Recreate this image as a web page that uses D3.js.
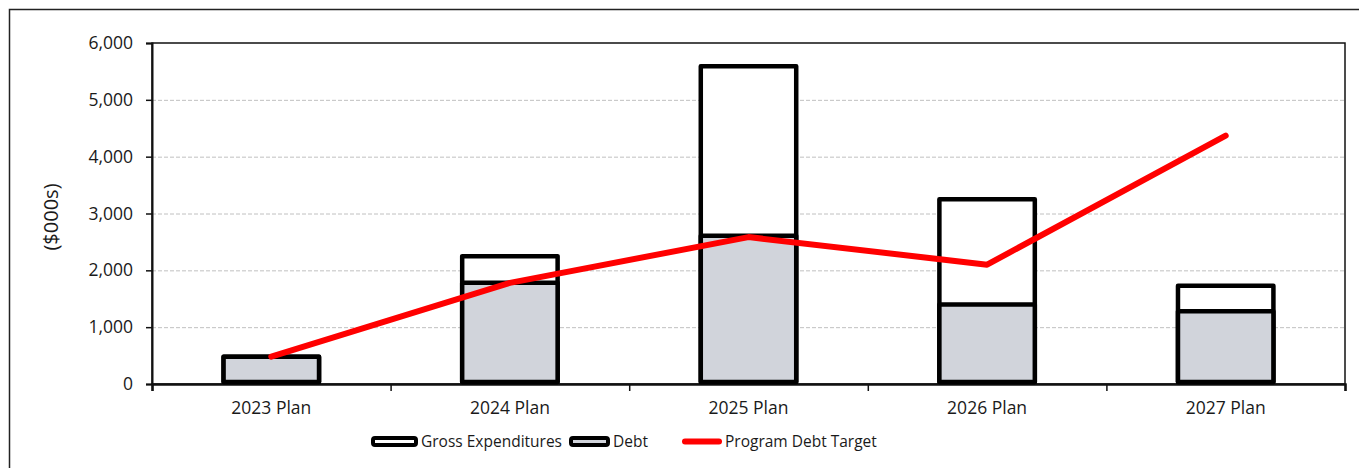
<html>
  <head>
    <script src="https://d3js.org/d3.v7.min.js"></script>
    <style>
      body {
        margin: 0;
        background: #fff;
        font-family: "Open Sans", sans-serif;
      }
      .gridlines line {
        stroke: #c0c0c0;
        stroke-dasharray: 4 2;
        /*dashed light grey like the original*/
      }
      .gridlines .domain {
        stroke: none;
      }
      .axis text {
        font-family: "Open Sans", sans-serif;
        font-size: 17.5px;
        fill: #1a1a1a;
      }
    </style>
  </head>

  <body>
    <svg id="svg1" width="1359" height="468"></svg>

    <script>
      // data
      const categories = ["2023 Plan", "2024 Plan", "2025 Plan", "2026 Plan", "2027 Plan"];
      const grossExpenditures = [480, 2250, 5590, 3250, 1730];
      const debt = [480, 1780, 2610, 1400, 1280];
      const debtTarget = [480, 1780, 2585, 2100, 4370];
      const yTicks = [0, 1000, 2000, 3000, 4000, 5000, 6000];

      const svg = d3.select("svg#svg1");
      const margin = { top: 43, right: 14, bottom: 84, left: 152 };
      const width = +svg.attr("width");
      const height = +svg.attr("height");
      const chartWidth = width - margin.left - margin.right;
      const chartHeight = height - margin.top - margin.bottom;

      // outer frame (runs off the right and bottom edges)
      svg
        .append("rect")
        .attr("x", 9.5)
        .attr("y", 9.5)
        .attr("width", width + 10)
        .attr("height", height + 10)
        .attr("fill", "none")
        .attr("stroke", "#222")
        .attr("stroke-width", 1.5);

      const data = categories.map((c, i) => ({
        cat: c,
        gross: grossExpenditures[i],
        debt: debt[i],
        target: debtTarget[i],
      }));

      const x = d3.scaleBand().domain(categories).range([0, chartWidth]).padding(0);
      const xEdges = d3.scaleLinear().domain([0, categories.length]).range([0, chartWidth]);
      const y = d3.scaleLinear().domain([0, 6000]).range([chartHeight, 0]);

      const chart = svg
        .append("g")
        .attr("transform", `translate(${margin.left},${margin.top})`);

      // horizontal gridlines
      chart
        .append("g")
        .attr("class", "y gridlines")
        .call(d3.axisLeft(y).tickValues(yTicks.slice(1, -1)).tickSize(-chartWidth).tickFormat(""));

      // plot area frame
      chart
        .append("rect")
        .attr("width", chartWidth)
        .attr("height", chartHeight)
        .attr("fill", "none")
        .attr("stroke", "#111")
        .attr("stroke-width", 1.5);

      // y axis
      const yAxis = chart
        .append("g")
        .attr("class", "y axis")
        .call(
          d3
            .axisLeft(y)
            .tickValues(yTicks)
            .tickSize(6)
            .tickPadding(13)
            .tickFormat(d3.format(","))
        );
      yAxis.select(".domain").attr("stroke", "#111").attr("stroke-width", 2);
      yAxis.selectAll(".tick line").attr("stroke", "#111").attr("stroke-width", 1.5);

      // x axis: ticks on category boundaries, labels in the middle
      const xTicksAxis = chart
        .append("g")
        .attr("transform", `translate(0,${chartHeight})`)
        .call(d3.axisBottom(xEdges).ticks(categories.length).tickSize(7).tickFormat(""));
      xTicksAxis.select(".domain").attr("stroke", "#111").attr("stroke-width", 2.5);
      xTicksAxis.selectAll(".tick line").attr("stroke", "#111").attr("stroke-width", 1.5);

      const xLabels = chart
        .append("g")
        .attr("class", "x axis")
        .attr("transform", `translate(0,${chartHeight})`)
        .call(d3.axisBottom(x).tickSize(0).tickPadding(18));
      xLabels.select(".domain").remove();

      // bars
      const barW = x.bandwidth() * 0.4;
      const bars = chart.append("g").attr("id", "bars");

      bars
        .selectAll("rect.gross")
        .data(data)
        .join("rect")
        .attr("class", "gross")
        .attr("x", (d) => x(d.cat) + (x.bandwidth() - barW) / 2)
        .attr("width", barW)
        .attr("y", (d) => y(d.gross))
        .attr("height", (d) => y(0) - y(d.gross) - 2)
        .attr("fill", "#fff")
        .attr("stroke", "#000")
        .attr("stroke-width", 4.5)
        .attr("stroke-linejoin", "round");

      bars
        .selectAll("rect.debt")
        .data(data)
        .join("rect")
        .attr("class", "debt")
        .attr("x", (d) => x(d.cat) + (x.bandwidth() - barW) / 2)
        .attr("width", barW)
        .attr("y", (d) => y(d.debt))
        .attr("height", (d) => y(0) - y(d.debt) - 2)
        .attr("fill", "#d1d4db")
        .attr("stroke", "#000")
        .attr("stroke-width", 4.5)
        .attr("stroke-linejoin", "round");

      // debt target line
      const lineGen = d3
        .line()
        .x((d) => x(d.cat) + x.bandwidth() / 2)
        .y((d) => y(d.target));

      chart
        .append("path")
        .datum(data)
        .attr("fill", "none")
        .attr("stroke", "#ff0000")
        .attr("stroke-width", 6)
        .attr("stroke-linecap", "round")
        .attr("stroke-linejoin", "round")
        .attr("d", lineGen);

      // y axis title
      svg
        .append("text")
        .attr("transform", `translate(58,217) rotate(-90)`)
        .attr("text-anchor", "middle")
        .style("font-family", "Open Sans, sans-serif")
        .style("font-size", "20px")
        .style("fill", "#1a1a1a")
        .text("($000s)");

      // legend
      const legendItems = [
        { label: "Gross Expenditures", kind: "box", fill: "#fff", x: 371 },
        { label: "Debt", kind: "box", fill: "#d1d4db", x: 569 },
        { label: "Program Debt Target", kind: "line", fill: "#ff0000", x: 682 },
      ];
      const legend = svg.append("g").attr("transform", "translate(0,441.5)");
      const li = legend
        .selectAll("g")
        .data(legendItems)
        .join("g")
        .attr("transform", (d) => `translate(${d.x},0)`);

      li.filter((d) => d.kind === "box")
        .append("rect")
        .attr("x", 2)
        .attr("y", -3.5)
        .attr("width", (d) => (d.label === "Debt" ? 37 : 43))
        .attr("height", 7)
        .attr("rx", 2)
        .attr("fill", (d) => d.fill)
        .attr("stroke", "#000")
        .attr("stroke-width", 4);

      li.filter((d) => d.kind === "line")
        .append("line")
        .attr("x1", 3)
        .attr("x2", 37)
        .attr("stroke", (d) => d.fill)
        .attr("stroke-width", 6)
        .attr("stroke-linecap", "round");

      li.append("text")
        .attr("x", (d) => (d.label === "Debt" ? 44 : d.kind === "line" ? 43 : 50))
        .attr("dy", "0.35em")
        .style("font-family", "Open Sans, sans-serif")
        .style("font-size", "15.5px")
        .style("fill", "#1a1a1a")
        .text((d) => d.label);
    </script>
  </body>
</html>
